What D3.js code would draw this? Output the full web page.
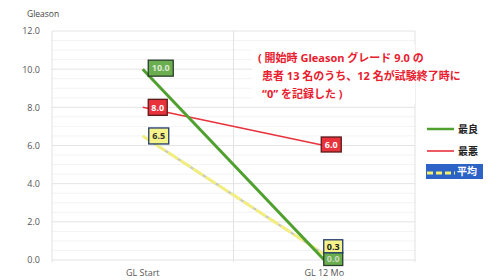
<!DOCTYPE html>
<html>
<head>
<meta charset="utf-8">
<script src="https://cdn.jsdelivr.net/npm/d3@7"></script>
<style>
  body { margin: 0; background: #fff; }
  text { font-family: "Open Sans", "Noto Sans CJK JP", sans-serif; }
</style>
</head>
<body>
<script>
// categories and series
var categories = ["GL Start", "GL 12 Mo"];
var best = [10.0, 0.0];
var worst = [8.0, 6.0];
var mean = [6.5, 0.3];
var yTicks = [0, 2, 4, 6, 8, 10, 12];
var legendNames = ["最良", "最悪", "平均"];
var noteLines = ["( 開始時 Gleason グレード 9.0 の", "患者 13 名のうち、12 名が試験終了時に", "“0” を記録した )"];

var width = 497,
    height = 280;

var svg = d3.select("body").append("svg")
    .attr("width", width)
    .attr("height", height);

var x = d3.scaleBand().domain(categories).range([52, 415]);
var y = d3.scaleLinear().domain([0, 12]).range([260, 31]);
var cx = function(i) { return x(categories[i]) + x.bandwidth() / 2; };

// faint minor grid
svg.append("g").selectAll("line")
    .data(d3.range(0, 12.01, 0.5))
    .enter().append("line")
    .attr("x1", 52).attr("x2", 415)
    .attr("y1", function(d) { return y(d); })
    .attr("y2", function(d) { return y(d); })
    .attr("stroke", function(d) { return d % 2 === 0 ? "#e4e4e4" : "#f3f3f3"; })
    .attr("stroke-width", 1);

// vertical grid lines (left edge, middle, right edge)
svg.append("g").selectAll("line")
    .data([52, x(categories[1]), 415])
    .enter().append("line")
    .attr("x1", function(d) { return d; }).attr("x2", function(d) { return d; })
    .attr("y1", 31).attr("y2", 262)
    .attr("stroke", "#e2e2e2");

// y axis labels
var yAxis = d3.axisLeft(y).tickValues(yTicks).tickFormat(d3.format(".1f")).tickSize(0).tickPadding(12);
var yg = svg.append("g").attr("transform", "translate(52,0)").call(yAxis);
yg.select(".domain").remove();
yg.selectAll("text").attr("fill", "#555").style("font-size", "9px");

svg.append("text").attr("x", 27).attr("y", 17)
    .attr("fill", "#444").style("font-size", "8.5px").text("Gleason");

// x axis labels
var xAxis = d3.axisBottom(x).tickSize(0).tickPadding(6);
var xg = svg.append("g").attr("transform", "translate(0,264)").call(xAxis);
xg.select(".domain").remove();
xg.selectAll("text").attr("fill", "#555").style("font-size", "9px");

// annotation with white backing
svg.append("rect").attr("x", 252).attr("y", 44).attr("width", 163).attr("height", 60).attr("fill", "#fff");
svg.append("g").selectAll("text")
    .data(noteLines)
    .enter().append("text")
    .attr("x", function(d, i) { return i === 0 ? 258 : 262; })
    .attr("y", function(d, i) { return 62 + i * 18; })
    .attr("fill", "#e8202e")
    .style("font-size", "11px")
    .style("font-weight", "bold")
    .text(function(d) { return d; });

var line = d3.line()
    .x(function(d, i) { return cx(i); })
    .y(function(d) { return y(d); });

// mean: grey base with pale yellow dashes
svg.append("path").datum(mean).attr("d", line)
    .attr("fill", "none").attr("stroke", "#c9c9bd").attr("stroke-width", 2.5);
svg.append("path").datum(mean).attr("d", line)
    .attr("fill", "none").attr("stroke", "#f2ef80").attr("stroke-width", 3)
    .attr("stroke-dasharray", "12,3");

svg.append("path").datum(worst).attr("d", line)
    .attr("fill", "none").attr("stroke", "#e8323c").attr("stroke-width", 1.6);

svg.append("path").datum(best).attr("d", line)
    .attr("fill", "none").attr("stroke", "#4fa02e").attr("stroke-width", 3);

// data label boxes
function labelBox(v, px, py, w, h, fill, stroke, color) {
  svg.append("rect")
      .attr("x", px - w / 2).attr("y", py - h / 2)
      .attr("width", w).attr("height", h)
      .attr("fill", fill).attr("stroke", stroke).attr("stroke-width", 1.3);
  svg.append("text")
      .attr("x", px).attr("y", py + 3.3)
      .attr("text-anchor", "middle")
      .attr("fill", color)
      .style("font-size", "9px").style("font-weight", "bold")
      .text(d3.format(".1f")(v));
}

labelBox(best[0], cx(0) + 18, y(best[0]) - 1, 25, 16, "#6aae50", "#2b3d2b", "#dfe8d8");
labelBox(worst[0], cx(0) + 15, y(worst[0]), 19, 16, "#e8323c", "#5a1a1a", "#fff");
labelBox(mean[0], cx(0) + 16, y(mean[0]), 20, 16, "#f6f38a", "#1f3a6a", "#333");
labelBox(worst[1], cx(1) + 7, y(worst[1]) - 1, 20, 15, "#e8323c", "#5a1a1a", "#fff");
labelBox(best[1], cx(1) + 9, y(best[1]) - 1, 19, 13, "#6aae50", "#2b3d2b", "#c9dcc0");
labelBox(mean[1], cx(1) + 9, y(mean[1]) - 8, 19, 13, "#f6f38a", "#1f3a6a", "#222");

// legend
var lg = svg.append("g");
lg.append("line").attr("x1", 427).attr("x2", 454).attr("y1", 129).attr("y2", 129)
    .attr("stroke", "#4fa02e").attr("stroke-width", 2.5);
lg.append("text").attr("x", 458).attr("y", 133).attr("fill", "#222")
    .style("font-size", "10px").style("font-weight", "bold").text(legendNames[0]);
lg.append("line").attr("x1", 427).attr("x2", 454).attr("y1", 151).attr("y2", 151)
    .attr("stroke", "#e8323c").attr("stroke-width", 1.6);
lg.append("text").attr("x", 458).attr("y", 155).attr("fill", "#222")
    .style("font-size", "10px").style("font-weight", "bold").text(legendNames[1]);
lg.append("rect").attr("x", 426).attr("y", 164).attr("width", 57).attr("height", 15)
    .attr("fill", "#2d62c6");
lg.append("line").attr("x1", 427).attr("x2", 455).attr("y1", 173).attr("y2", 173)
    .attr("stroke", "#f3f06a").attr("stroke-width", 3).attr("stroke-dasharray", "6,3");
lg.append("text").attr("x", 457).attr("y", 175).attr("fill", "#fff")
    .style("font-size", "10px").style("font-weight", "bold").text(legendNames[2]);
</script>
</body>
</html>
